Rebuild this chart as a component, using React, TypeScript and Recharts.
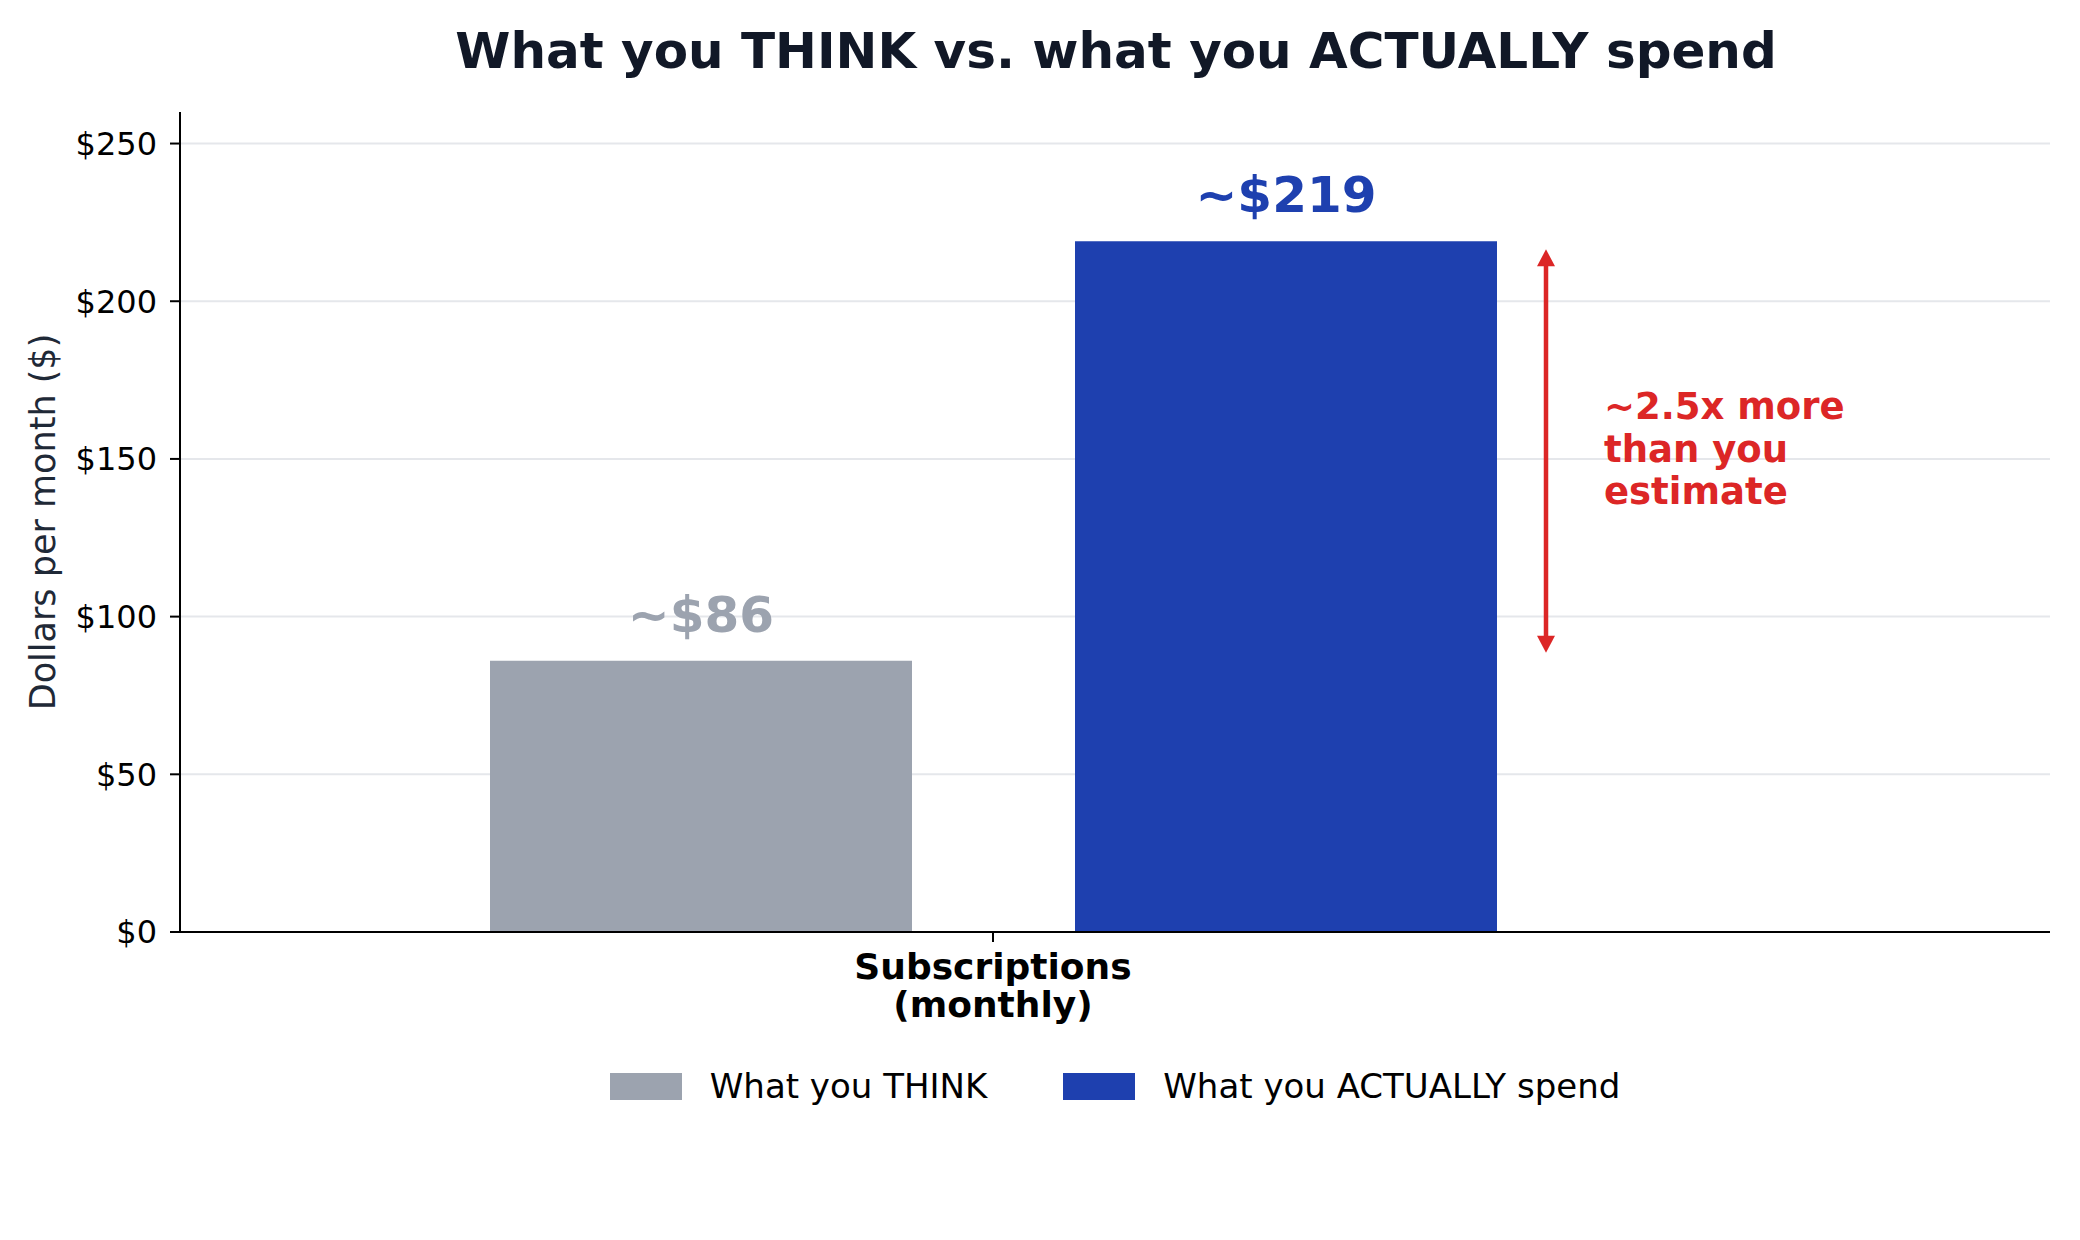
import { Bar, BarChart, CartesianGrid, LabelList, Legend, XAxis, YAxis } from "recharts";

// values
const categories = ["Subscriptions\n(monthly)"];
const thinkValues = [86];
const actualValues = [219];
const seriesNames = ["What you THINK", "What you ACTUALLY spend"];
const seriesColors = ["#9ca3af", "#1e40af"];
const yTicks = [0, 50, 100, 150, 200, 250];
const yMax = 260;
const annotationLines = ["~2.5x more", "than you", "estimate"];

const FONT = "DejaVu Sans";
const RED = "#dc2626";

const data = categories.map((name, i) => ({
  name,
  think: thinkValues[i],
  actual: actualValues[i],
}));

function CategoryTick({ x, y, payload }: any) {
  const lines = String(payload.value).split("\n");
  return (
    <text x={x} y={y} textAnchor="middle" fontFamily={FONT} fontWeight="bold" fontSize={36} fill="#000">
      {lines.map((l, i) => (
        <tspan key={i} x={x} dy={i === 0 ? 37 : 38}>
          {l}
        </tspan>
      ))}
    </text>
  );
}

// label above each bar, coloured like its bar
const barLabel = (color: string) => (p: any) => {
  const { x, y, width, value } = p;
  return (
    <text x={x + width / 2} y={y - 29} textAnchor="middle" fontFamily={FONT} fontWeight="bold" fontSize={50} fill={color}>
      {`~$${value}`}
    </text>
  );
};

// double arrow from the estimate up to the real spend, with note
function GapArrow(p: any) {
  const { x, y, width, height, value, index } = p;
  const base = y + height;
  const perUnit = height / value;
  const yLow = base - thinkValues[index] * perUnit;
  const yHigh = y;
  const ax = x + width + 49;
  const shrink = 8;
  const top = yHigh + shrink;
  const bot = yLow - shrink;
  const hl = 17;
  const hw = 9;
  const mid = (yLow + yHigh) / 2;
  return (
    <g>
      <line x1={ax} y1={top + hl - 2} x2={ax} y2={bot - hl + 2} stroke={RED} strokeWidth={4.5} />
      <polygon points={`${ax},${top} ${ax - hw},${top + hl} ${ax + hw},${top + hl}`} fill={RED} />
      <polygon points={`${ax},${bot} ${ax - hw},${bot - hl} ${ax + hw},${bot - hl}`} fill={RED} />
      <text x={ax + 58} y={mid} fontFamily={FONT} fontWeight="bold" fontSize={37} fill={RED}>
        {annotationLines.map((l, i) => (
          <tspan key={i} x={ax + 58} y={mid - 32 + i * 42.5}>
            {l}
          </tspan>
        ))}
      </text>
    </g>
  );
}

function LegendBox({ payload }: any) {
  const items = [...(payload || [])].sort(
    (a: any, b: any) => seriesNames.indexOf(a.value) - seriesNames.indexOf(b.value)
  );
  return (
    <div style={{ display: "flex", justifyContent: "center", alignItems: "center", gap: 76, fontFamily: FONT, fontSize: 34, color: "#000" }}>
      {items.map((e: any) => (
        <div key={e.value} style={{ display: "flex", alignItems: "center" }}>
          <span style={{ width: 72, height: 27, background: e.color, display: "inline-block", marginRight: 28 }} />
          <span>{e.value}</span>
        </div>
      ))}
    </div>
  );
}

export default function App() {
  return (
    <div style={{ position: "relative", width: 2080, height: 1240, background: "#fff" }}>
      <style>{"body{margin:0}"}</style>
      <BarChart
        width={2080}
        height={1240}
        data={data}
        margin={{ top: 112, right: 30, bottom: 208, left: 0 }}
        barGap={163}
      >
        <CartesianGrid
          horizontal
          vertical={false}
          horizontalValues={yTicks.filter((t) => t > 0)}
          stroke="#e5e7eb"
          strokeWidth={2}
        />
        <XAxis
          dataKey="name"
          height={100}
          padding={{ left: 0, right: 244 }}
          axisLine={{ stroke: "#000", strokeWidth: 2 }}
          tickLine={{ stroke: "#000", strokeWidth: 2 }}
          tickSize={10}
          tickMargin={0}
          tick={<CategoryTick />}
        />
        <YAxis
          width={180}
          domain={[0, yMax]}
          ticks={yTicks}
          tickFormatter={(v) => `$${v}`}
          axisLine={{ stroke: "#000", strokeWidth: 2 }}
          tickLine={{ stroke: "#000", strokeWidth: 2 }}
          tickSize={10}
          tickMargin={13}
          tick={{ fill: "#000", fontSize: 32, fontFamily: FONT }}
          label={(props: any) => {
            const vb = props.viewBox;
            const cy = vb.y + vb.height / 2;
            return (
              <text x={43} y={cy} transform={`rotate(-90 43 ${cy})`} textAnchor="middle" dominantBaseline="central" fontFamily={FONT} fontSize={35} fill="#1f2937">
                Dollars per month ($)
              </text>
            );
          }}
        />
        <Legend
          verticalAlign="middle"
          align="center"
          layout="horizontal"
          wrapperStyle={{ top: 1066, left: 180, width: 1870 }}
          content={<LegendBox />}
        />
        <Bar dataKey="think" name={seriesNames[0]} fill={seriesColors[0]} barSize={422} isAnimationActive={false}>
          <LabelList dataKey="think" content={barLabel(seriesColors[0])} />
        </Bar>
        <Bar dataKey="actual" name={seriesNames[1]} fill={seriesColors[1]} barSize={422} isAnimationActive={false}>
          <LabelList dataKey="actual" content={barLabel(seriesColors[1])} />
          <LabelList dataKey="actual" content={GapArrow} />
        </Bar>
      </BarChart>
      <svg width={2080} height={100} style={{ position: "absolute", left: 0, top: 0, pointerEvents: "none" }}>
        <text x={1116} y={68} textAnchor="middle" fontFamily={FONT} fontWeight="bold" fontSize={50} fill="#111827">
          What you THINK vs. what you ACTUALLY spend
        </text>
      </svg>
    </div>
  );
}
